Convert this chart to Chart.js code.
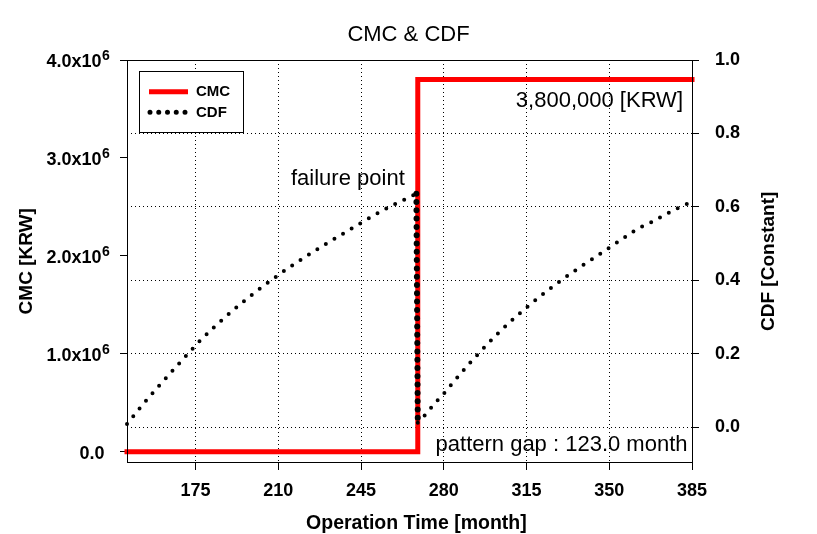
<!DOCTYPE html>
<html><head><meta charset="utf-8">
<script src="https://cdn.jsdelivr.net/npm/chart.js@4/dist/chart.umd.min.js"></script>
<style>html,body{margin:0;padding:0;background:#fff}#wrap{width:817px;height:534px}</style>
</head><body><div id="wrap"><canvas id="c" width="817" height="534"></canvas></div>
<script>
const FONT = "'Liberation Sans', Arial, sans-serif";

// ---- data ----
const xTicks = [175, 210, 245, 280, 315, 350, 385];
const leftTicks = [0, 1000000, 2000000, 3000000, 4000000];
const leftTickMantissa = ['0.0', '1.0x10', '2.0x10', '3.0x10', '4.0x10'];
const leftTickExp = ['', '6', '6', '6', '6'];
const rightTicks = [0, 0.2, 0.4, 0.6, 0.8, 1.0];

const cmcMonths = [146, 269, 269, 385];
const cmcValues = [0, 0, 3800000, 3800000];

const cdfMonths = [146, 152, 158, 164, 170, 176, 182, 188, 194, 200, 206, 212, 218, 224, 230, 236, 242, 248, 254, 260, 265, 268.4,
                   269.0, 272, 275, 278, 281, 284, 287, 290, 296, 302, 308, 314, 320, 326, 332, 338, 344, 350, 356, 362, 368, 374, 380, 385];
const cdfValues = [0.009, 0.057, 0.102, 0.145, 0.188, 0.230, 0.268, 0.303, 0.336, 0.367, 0.396, 0.424, 0.450, 0.475, 0.499, 0.522, 0.545, 0.568, 0.590, 0.610, 0.625, 0.636,
                   0.0125, 0.033, 0.056, 0.078, 0.099, 0.123, 0.145, 0.168, 0.210, 0.250, 0.287, 0.321, 0.353, 0.383, 0.411, 0.438, 0.463, 0.489, 0.515, 0.541, 0.559, 0.580, 0.600, 0.614];

const overlay = {
  id: 'overlay',
  afterDatasetsDraw(chart) {
    const {ctx, chartArea: a, scales} = chart;
    ctx.save();
    ctx.setLineDash([]);
    // frame
    ctx.strokeStyle = '#000'; ctx.lineWidth = 1;
    ctx.strokeRect(a.left + 0.5, a.top + 0.5, a.right - a.left, a.bottom - a.top - 1);

    // left tick labels with superscript
    ctx.fillStyle = '#000'; ctx.textBaseline = 'alphabetic';
    leftTicks.forEach((v, i) => {
      const y = scales.yL.getPixelForValue(v);
      ctx.font = `bold 18px ${FONT}`; ctx.textAlign = 'right';
      if (!leftTickExp[i]) {
        ctx.fillText(leftTickMantissa[i], 104.5, y + 6.8);
      } else {
        ctx.fillText(leftTickMantissa[i], 101.5, y + 6.8);
        ctx.font = `bold 14px ${FONT}`; ctx.textAlign = 'left';
        ctx.fillText(leftTickExp[i], 102, y + 0.3);
      }
    });

    // axis titles
    ctx.font = `bold 19.5px ${FONT}`;
    ctx.textAlign = 'center';
    ctx.fillText('Operation Time [month]', 416.4, 529);
    ctx.font = `bold 19px ${FONT}`;
    ctx.save(); ctx.translate(31.7, 261.3); ctx.rotate(-Math.PI / 2);
    ctx.fillText('CMC [KRW]', 0, 0); ctx.restore();
    ctx.save(); ctx.translate(774, 261.3); ctx.rotate(-Math.PI / 2);
    ctx.fillText('CDF [Constant]', 0, 0); ctx.restore();

    // annotations
    ctx.font = `22px ${FONT}`;
    ctx.textAlign = 'left';
    ctx.fillText('failure point', 291, 185);
    ctx.textAlign = 'right';
    ctx.fillText('3,800,000 [KRW]', 683, 107);
    ctx.fillText('pattern gap : 123.0 month', 687.5, 451);

    // legend
    ctx.fillStyle = '#fff';
    ctx.fillRect(139.5, 71.5, 104, 61);
    ctx.strokeStyle = '#000'; ctx.lineWidth = 1;
    ctx.strokeRect(139.5, 71.5, 104, 61);
    ctx.strokeStyle = '#ff0000'; ctx.lineWidth = 5; ctx.lineCap = 'butt';
    ctx.beginPath(); ctx.moveTo(149, 91.7); ctx.lineTo(188, 91.7); ctx.stroke();
    ctx.strokeStyle = '#000'; ctx.lineWidth = 5; ctx.lineCap = 'round';
    ctx.setLineDash([0, 8.75]);
    ctx.beginPath(); ctx.moveTo(150, 112.3); ctx.lineTo(186, 112.3); ctx.stroke();
    ctx.setLineDash([]);
    ctx.fillStyle = '#000';
    ctx.font = `bold 15px ${FONT}`; ctx.textAlign = 'left'; ctx.textBaseline = 'middle';
    ctx.fillText('CMC', 196, 92);
    ctx.fillText('CDF', 196, 112.5);
    ctx.restore();
  }
};

const isVertical = c => Math.abs(c.p1.parsed.x - c.p0.parsed.x) < 2;

new Chart(document.getElementById('c'), {
  type: 'line',
  data: {
    datasets: [
      {
        label: 'CMC',
        data: cmcMonths.map((m, i) => ({x: m, y: cmcValues[i]})),
        yAxisID: 'yL',
        borderColor: '#ff0000', borderWidth: 5,
        borderCapStyle: 'square', borderJoinStyle: 'miter',
        pointRadius: 0, order: 2, clip: 6
      },
      {
        label: 'CDF',
        data: cdfMonths.map((m, i) => ({x: m, y: cdfValues[i]})),
        yAxisID: 'yR',
        borderColor: '#000', borderWidth: 4,
        borderDash: [0, 10], borderCapStyle: 'round',
        pointRadius: 0, order: 1, clip: 6,
        segment: {
          borderDash: c => isVertical(c) ? [0, 8.3] : undefined,
          borderWidth: c => isVertical(c) ? 6 : undefined
        }
      }
    ]
  },
  options: {
    responsive: false, animation: false, devicePixelRatio: 1,
    layout: {padding: 0},
    plugins: {
      legend: {display: false},
      tooltip: {enabled: false},
      title: {
        display: true, text: 'CMC & CDF', color: '#000',
        font: {family: FONT, size: 22, weight: 'normal'},
        padding: {top: 22, bottom: 11.6}
      }
    },
    scales: {
      x: {
        type: 'linear', min: 146, max: 385,
        afterBuildTicks: s => { s.ticks = xTicks.map(v => ({value: v})); },
        afterFit: s => { s.height = 71; },
        grid: {color: '#000', lineWidth: 1, tickLength: 7, tickColor: '#000', tickWidth: 1, drawOnChartArea: true},
        border: {display: false, dash: [1, 3]},
        ticks: {color: '#000', font: {family: FONT, size: 18, weight: 'bold'}, padding: 10, maxRotation: 0, autoSkip: false, callback: v => String(v)}
      },
      yL: {
        type: 'linear', position: 'left', min: -115000, max: 4000000,
        afterBuildTicks: s => { s.ticks = leftTicks.map(v => ({value: v})); },
        afterFit: s => { s.width = 127; },
        grid: {drawOnChartArea: false, tickLength: 7, tickColor: '#000', tickWidth: 1},
        border: {display: false},
        ticks: {display: false}
      },
      yR: {
        type: 'linear', position: 'right', min: -0.097, max: 1.0,
        afterBuildTicks: s => { s.ticks = rightTicks.map(v => ({value: v})); },
        afterFit: s => { s.width = 125; },
        grid: {color: '#000', lineWidth: 1, tickLength: 7, tickColor: '#000', tickWidth: 1, drawOnChartArea: true},
        border: {display: false, dash: [1, 3]},
        ticks: {color: '#000', font: {family: FONT, size: 18, weight: 'bold'}, padding: 16, autoSkip: false, callback: v => v.toFixed(1)}
      }
    }
  },
  plugins: [overlay]
});
</script>
</body></html>
